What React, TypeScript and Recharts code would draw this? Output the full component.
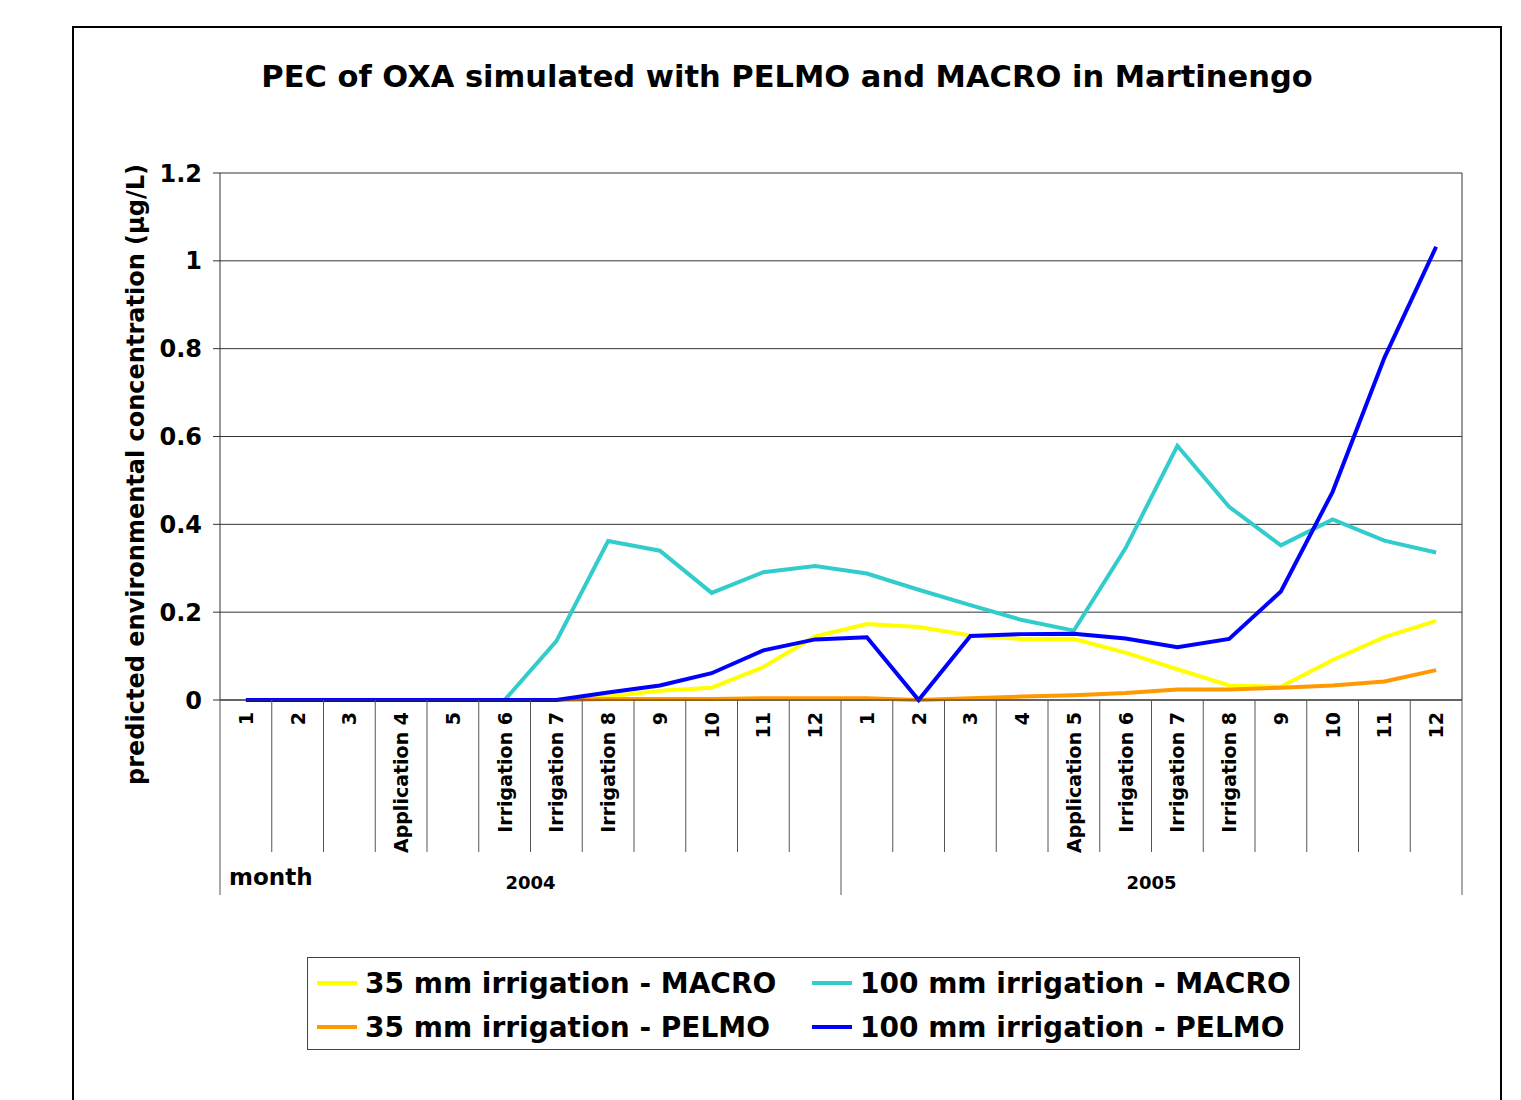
import React from 'react';
import { LineChart, Line, XAxis, YAxis, CartesianGrid } from 'recharts';

const months = ['1', '2', '3', 'Application 4', '5', 'Irrigation 6', 'Irrigation 7', 'Irrigation 8', '9', '10', '11', '12',
  '1', '2', '3', '4', 'Application 5', 'Irrigation 6', 'Irrigation 7', 'Irrigation 8', '9', '10', '11', '12'];
const years = ['2004', '2004', '2004', '2004', '2004', '2004', '2004', '2004', '2004', '2004', '2004', '2004',
  '2005', '2005', '2005', '2005', '2005', '2005', '2005', '2005', '2005', '2005', '2005', '2005'];

const macro35 = [0, 0, 0, 0, 0, 0, 0, 0.008, 0.021, 0.028, 0.075, 0.145,
  0.173, 0.166, 0.147, 0.139, 0.139, 0.108, 0.07, 0.033, 0.03, 0.091, 0.143, 0.18];
const macro100 = [0, 0, 0, 0, 0, 0, 0.134, 0.362, 0.34, 0.244, 0.291, 0.305,
  0.288, 0.251, 0.216, 0.182, 0.158, 0.346, 0.579, 0.44, 0.352, 0.411, 0.363, 0.336];
const pelmo35 = [0, 0, 0, 0, 0, 0, 0, 0.002, 0.002, 0.002, 0.004, 0.004,
  0.004, 0, 0.004, 0.008, 0.011, 0.016, 0.024, 0.024, 0.028, 0.033, 0.042, 0.068];
const pelmo100 = [0, 0, 0, 0, 0, 0, 0, 0.017, 0.033, 0.061, 0.113, 0.138,
  0.143, 0, 0.146, 0.15, 0.151, 0.14, 0.12, 0.139, 0.247, 0.474, 0.779, 1.032];

const yTicks = [0, 0.2, 0.4, 0.6, 0.8, 1, 1.2];

const series = [
  { key: 'macro35', name: '35 mm irrigation - MACRO', color: '#FFFF00' },
  { key: 'macro100', name: '100 mm irrigation - MACRO', color: '#33CCCC' },
  { key: 'pelmo35', name: '35 mm irrigation - PELMO', color: '#FF9900' },
  { key: 'pelmo100', name: '100 mm irrigation - PELMO', color: '#0000FF' },
];

const data = months.map((m, i) => ({
  month: m,
  year: years[i],
  macro35: macro35[i],
  macro100: macro100[i],
  pelmo35: pelmo35[i],
  pelmo100: pelmo100[i],
}));

const FONT = '"DejaVu Sans", Verdana, sans-serif';
const W = 1521;
const H = 1100;
const PLOT_LEFT = 220;
const PLOT_RIGHT = 1462;
const PLOT_TOP = 173;
const PLOT_BOTTOM = 700;
const MONTH_AXIS_H = 152;
const YEAR_AXIS_H = 43;
const DIVIDER = '#555';
const MONTH_HALF = (PLOT_RIGHT - PLOT_LEFT) / months.length / 2;
const YEAR_HALF = (PLOT_RIGHT - PLOT_LEFT) / 2 / 2;

const MonthTick = (props: any) => {
  const { x, y, payload, index } = props;
  const half = MONTH_HALF;
  return (
    <g>
      <line x1={x - half} y1={y} x2={x - half} y2={y + MONTH_AXIS_H} stroke={DIVIDER} strokeWidth={1} />
      {index === months.length - 1 && (
        <line x1={x + half} y1={y} x2={x + half} y2={y + MONTH_AXIS_H} stroke={DIVIDER} strokeWidth={1} />
      )}
      <text
        transform={`translate(${x + 7},${y + 12}) rotate(-90)`}
        textAnchor="end"
        fontFamily={FONT}
        fontWeight="bold"
        fontSize={19}
        fill="#000"
      >
        {payload.value}
      </text>
    </g>
  );
};

const YearTick = (props: any) => {
  const { x, y, payload, index } = props;
  const half = YEAR_HALF;
  return (
    <g>
      <line x1={x - half} y1={y} x2={x - half} y2={y + YEAR_AXIS_H} stroke={DIVIDER} strokeWidth={1} />
      {index === 1 && (
        <line x1={x + half} y1={y} x2={x + half} y2={y + YEAR_AXIS_H} stroke={DIVIDER} strokeWidth={1} />
      )}
      <text x={x} y={y + 37} textAnchor="middle" fontFamily={FONT} fontWeight="bold" fontSize={18} fill="#000">
        {payload.value}
      </text>
      {index === 0 && (
        <text x={x - half + 9} y={y + 33} fontFamily={FONT} fontWeight="bold" fontSize={23} fill="#000">
          month
        </text>
      )}
    </g>
  );
};

const YLabel = (props: any) => {
  const { viewBox } = props;
  const cx = viewBox.x + 16;
  const cy = viewBox.y + viewBox.height / 2 + 38;
  return (
    <text
      transform={`translate(${cx},${cy}) rotate(-90)`}
      textAnchor="middle"
      dominantBaseline="central"
      fontFamily={FONT}
      fontWeight="bold"
      fontSize={24}
      fill="#000"
    >
      predicted environmental concentration (µg/L)
    </text>
  );
};

const LegendBox = () => (
  <div
    style={{
      position: 'absolute',
      left: 307,
      top: 957,
      border: '1px solid #444',
      width: 993,
      height: 93,
      boxSizing: 'border-box',
      display: 'grid',
      gridTemplateColumns: '495px 495px',
      gridTemplateRows: '44px 44px',
      padding: '3px 0 0 9px',
      fontFamily: FONT,
      fontWeight: 'bold',
      fontSize: 28,
      color: '#000',
    }}
  >
    {series.map((s) => (
      <div key={s.key} style={{ display: 'flex', alignItems: 'center', whiteSpace: 'nowrap' }}>
        <span style={{ display: 'inline-block', width: 40, height: 4, background: s.color, marginRight: 8 }} />
        {s.name}
      </div>
    ))}
  </div>
);

export default function App() {
  return (
    <div style={{ position: 'absolute', left: 0, top: 0, width: W, height: H, background: '#fff', overflow: 'hidden' }}>
      <div
        style={{
          position: 'absolute',
          left: 72,
          top: 26,
          width: 1430,
          height: 1200,
          border: '2px solid #000',
          boxSizing: 'border-box',
        }}
      />
      <div
        style={{
          position: 'absolute',
          left: 72,
          top: 59,
          width: 1430,
          textAlign: 'center',
          fontFamily: FONT,
          fontWeight: 'bold',
          fontSize: 30.5,
          color: '#000',
        }}
      >
        PEC of OXA simulated with PELMO and MACRO in Martinengo
      </div>
      <div style={{ position: 'absolute', left: 0, top: 0 }}>
        <LineChart
          width={W}
          height={H}
          data={data}
          margin={{
            top: PLOT_TOP,
            left: PLOT_LEFT - 100,
            right: W - PLOT_RIGHT,
            bottom: H - PLOT_BOTTOM - MONTH_AXIS_H - YEAR_AXIS_H,
          }}
        >
          <CartesianGrid
            stroke="#333"
            strokeWidth={1}
            vertical={true}
            verticalCoordinatesGenerator={({ offset }: any) => [offset.left + offset.width]}
          />
          <XAxis
            dataKey="month"
            interval={0}
            padding={{ left: MONTH_HALF, right: MONTH_HALF }}
            height={MONTH_AXIS_H}
            tickSize={0}
            tickMargin={0}
            tickLine={false}
            axisLine={{ stroke: '#333' }}
            tick={<MonthTick />}
          />
          <XAxis
            xAxisId="year"
            dataKey="year"
            allowDuplicatedCategory={false}
            interval={0}
            padding={{ left: YEAR_HALF, right: YEAR_HALF }}
            height={YEAR_AXIS_H}
            tickSize={0}
            tickMargin={0}
            tickLine={false}
            axisLine={false}
            tick={<YearTick />}
          />
          <YAxis
            width={100}
            domain={[0, 1.2]}
            ticks={yTicks}
            interval={0}
            tickSize={7}
            tickMargin={11}
            axisLine={{ stroke: '#333' }}
            tickLine={{ stroke: '#333' }}
            tick={{ fill: '#000', fontFamily: FONT, fontWeight: 'bold', fontSize: 24 }}
            tickFormatter={(v: number) => String(v)}
            label={<YLabel />}
          />
          {series.map((s) => (
            <Line
              key={s.key}
              type="linear"
              dataKey={s.key}
              name={s.name}
              stroke={s.color}
              strokeWidth={4}
              dot={false}
              activeDot={false}
              isAnimationActive={false}
            />
          ))}
        </LineChart>
      </div>
      <LegendBox />
    </div>
  );
}
